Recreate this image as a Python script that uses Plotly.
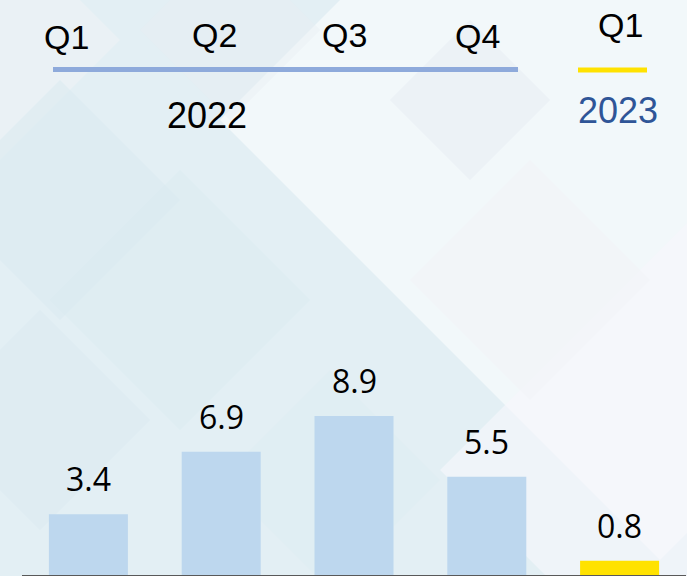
import plotly.graph_objects as go

# ---- data ----
categories = ["2022 Q1", "2022 Q2", "2022 Q3", "2022 Q4", "2023 Q1"]
values = [3.4, 6.9, 8.9, 5.5, 0.8]
value_labels = ["3.4", "6.9", "8.9", "5.5", "0.8"]
bar_colors = ["#BDD7EE", "#BDD7EE", "#BDD7EE", "#BDD7EE", "#FFE200"]
quarter_labels = ["Q1", "Q2", "Q3", "Q4", "Q1"]
year_labels = ["2022", "2023"]

W, H = 687, 576
ML, MR, MT, MB = 22, 1, 0, 1
PW, PH = W - ML - MR, H - MT - MB


def px(x):
    return (x - ML) / PW


def py(y):
    return (H - MB - y) / PH


fig = go.Figure()
fig.add_trace(go.Bar(
    x=categories, y=values, marker=dict(color=bar_colors, line=dict(width=0)),
    hoverinfo="skip", showlegend=False,
))

# value labels above bars
for c, v, t in zip(categories, values, value_labels):
    fig.add_annotation(x=c, y=v, text=t, showarrow=False, yanchor="bottom",
                       yshift=12, font=dict(family="Open Sans", size=32, color="#000000"))

# header quarter labels
q_pos = [(66.5, 37), (214, 34.5), (344, 35), (477, 36), (620, 25)]
for lab, (xx, yy) in zip(quarter_labels, q_pos):
    fig.add_annotation(xref="paper", yref="paper", x=px(xx), y=py(yy), text=lab,
                       showarrow=False, xanchor="center", yanchor="middle",
                       font=dict(family="Liberation Sans", size=34, color="#000000"))

fig.add_annotation(xref="paper", yref="paper", x=px(207), y=py(115.5), text=year_labels[0],
                   showarrow=False, xanchor="center", yanchor="middle",
                   font=dict(family="Liberation Sans", size=36, color="#000000"))
fig.add_annotation(xref="paper", yref="paper", x=px(618), y=py(110), text=year_labels[1],
                   showarrow=False, xanchor="center", yanchor="middle",
                   font=dict(family="Liberation Sans", size=36, color="#2F5597"))

shapes = []


def diamond(cx, cy, r, color, op):
    return dict(type="path", xref="paper", yref="paper", layer="below",
                path=f"M {px(cx)} {py(cy - r)} L {px(cx + r)} {py(cy)} L {px(cx)} {py(cy + r)} L {px(cx - r)} {py(cy)} Z",
                fillcolor=color, opacity=op, line=dict(width=0))


# subtle decorative background diamonds
shapes += [
    diamond(0, 40, 120, "#EEF2F5", 0.6),
    diamond(660, 120, 440, "#FFFFFF", 0.55),
    diamond(690, 470, 250, "#F7F6FB", 0.6),
    diamond(60, 200, 120, "#D6E8EF", 0.45),
    diamond(180, 300, 130, "#DAEAF1", 0.4),
    diamond(470, 100, 80, "#E3E9EF", 0.4),
    diamond(530, 280, 120, "#F1F2F7", 0.45),
    diamond(230, 30, 90, "#E8EEF3", 0.4),
    diamond(40, 420, 110, "#D6E8EF", 0.35),
    diamond(330, 480, 110, "#DCEBF3", 0.3),
]

# header lines
shapes.append(dict(type="line", xref="paper", yref="paper", x0=px(53), x1=px(518),
                   y0=py(69.5), y1=py(69.5), line=dict(color="#8EAADB", width=5)))
shapes.append(dict(type="line", xref="paper", yref="paper", x0=px(578), x1=px(647),
                   y0=py(70), y1=py(70), line=dict(color="#FFE200", width=5)))

fig.update_layout(
    width=W, height=H,
    margin=dict(l=ML, r=MR, t=MT, b=MB),
    paper_bgcolor="#E3EFF4", plot_bgcolor="rgba(0,0,0,0)",
    bargap=0.405,
    shapes=shapes,
    xaxis=dict(showticklabels=False, showgrid=False, zeroline=False, showline=True,
               linecolor="#595959", linewidth=3, fixedrange=True),
    yaxis=dict(range=[0, 32.2], visible=False, showgrid=False, zeroline=False, fixedrange=True),
    showlegend=False,
)

fig.write_html("out.html", config={"displayModeBar": False},
               post_script="document.body.style.margin='0';document.body.style.overflow='hidden';")
